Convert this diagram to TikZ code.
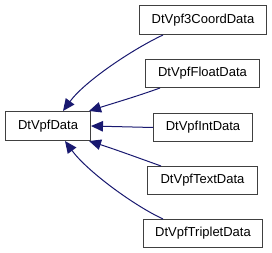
\documentclass[tikz,border=0pt]{standalone}
\usepackage{fontspec}
\setmainfont{Liberation Sans}
\usetikzlibrary{arrows.meta}
\begin{document}
\begin{tikzpicture}[x=1pt,y=-1pt,
  cls/.style={draw=black!75,line width=1pt,fill=white,inner sep=0pt,anchor=north west,
    font=\fontsize{13}{15}\selectfont},
  edge/.style={draw={rgb,255:red,25;green,25;blue,112},line width=1pt,
    -{Triangle[length=12pt,width=10.5pt]}}]
\useasboundingbox (0,0) rectangle (272,253);
\node[cls,minimum width=85pt,minimum height=29pt] (base) at (5,111) {DtVpfData};
\node[cls,minimum width=127pt,minimum height=29pt] (c1) at (139,5) {DtVpf3CoordData};
\node[cls,minimum width=114pt,minimum height=28pt] (c2) at (145,59) {DtVpfFloatData};
\node[cls,minimum width=99pt,minimum height=28pt] (c3) at (153,113) {DtVpfIntData};
\node[cls,minimum width=110pt,minimum height=28pt] (c4) at (147,166) {DtVpfTextData};
\node[cls,minimum width=119pt,minimum height=28pt] (c5) at (143,219) {DtVpfTripletData};
\draw[edge] ([xshift=24pt]c1.south west) .. controls +(-30,14) and +(22,-30) .. ([xshift=58pt]base.north west);
\draw[edge] ([xshift=15pt]c2.south west) .. controls +(-25,9) and +(25,-8) .. ([xshift=-2pt]base.north east);
\draw[edge] (c3.west) -- (base.east);
\draw[edge] ([xshift=14pt]c4.north west) .. controls +(-25,-9) and +(25,8) .. ([xshift=-2pt]base.south east);
\draw[edge] ([xshift=20pt]c5.north west) .. controls +(-30,-14) and +(22,30) .. ([xshift=60pt]base.south west);
\end{tikzpicture}
\end{document}
